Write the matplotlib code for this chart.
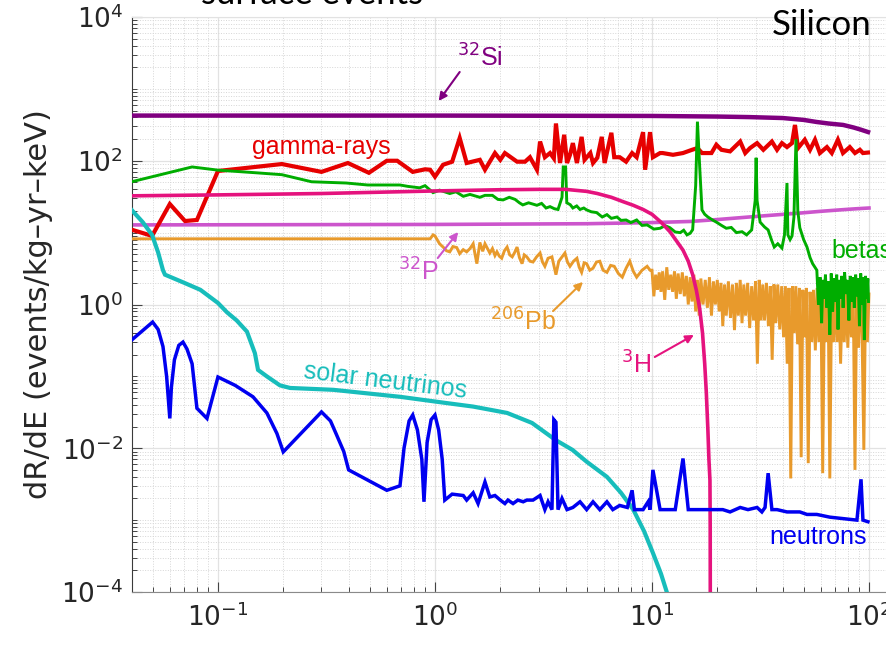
import numpy as np
import matplotlib
matplotlib.use("Agg")
import matplotlib.pyplot as plt
from matplotlib.ticker import LogLocator, FixedLocator, LogFormatterSciNotation, NullFormatter

# ---------------------------------------------------------------------------
# Differential rate spectra in silicon, dR/dE in events/kg/yr/keV vs energy (keV)
# ---------------------------------------------------------------------------

# 32Si beta spectrum
si32_E = [0.04, 1, 10, 20, 28, 40, 50, 57.5, 65, 76, 85, 92, 99]
si32_R = [425, 425, 420, 412, 405, 393, 370, 346, 330, 315, 290, 270, 251]

# 32P beta spectrum
p32_E = [0.04, 1, 5, 10, 15, 20, 28, 35, 48, 60, 70, 80, 90, 100]
p32_R = [12.8, 13.0, 13.3, 13.8, 14.3, 15.2, 16.5, 17.4, 18.7, 19.8, 20.5, 21.1, 21.6, 22.0]

# 3H beta spectrum (endpoint 18.6 keV)
h3_E = [0.04, 0.1, 0.3, 1, 2, 3, 4, 5, 5.6, 6.5, 7.35, 8.2, 9.1, 10, 11, 12.1, 13, 13.9,
        14.7, 15.4, 16.0, 16.6, 17.1, 17.5, 17.8, 18.1, 18.3, 18.5, 18.55, 18.6]
h3_R = [32.5, 33.5, 35, 38, 39.5, 40, 40, 37.5, 35, 31, 27, 24, 21, 18, 14, 10.3, 7.6, 5.7,
        4.0, 2.6, 1.6, 0.87, 0.4, 0.15, 0.06, 0.018, 0.007, 0.0036, 0.0008, 1e-6]

# gamma-ray background
g_E = [0.04, 0.0497, 0.060, 0.0705, 0.080, 0.1, 0.197, 0.30, 0.397, 0.496, 0.60, 0.67, 0.79,
       0.90, 0.95, 1.0, 1.09, 1.20, 1.30, 1.40, 1.61, 1.70, 1.89, 2.0, 2.10, 2.39, 2.60, 2.74,
       2.95, 3.05, 3.21, 3.39, 3.53, 3.61, 3.77, 3.94, 4.06, 4.19, 4.32, 4.51, 4.74, 4.89, 5.2,
       5.35, 5.6, 5.87, 6.05, 6.5, 6.7, 7.1, 7.6, 8.1, 8.5, 9.1, 9.3, 9.8, 10.1, 10.9, 11.2,
       12.5, 13.9, 15.3, 16.2, 17.0, 18.8, 19.8, 20.9, 22.9, 25.5, 26.9, 28.3, 30.5, 32.6,
       35.7, 37.7, 39.7, 41.9, 44.2, 45.6, 47.1, 50.6, 53.5, 56.4, 59.4, 64, 67.4, 71.9, 75.9,
       81.6, 86.2, 90.8, 93.8, 98.9]
g_R = [11, 9.0, 25, 14.5, 15, 72, 90, 70, 93, 68, 100, 100, 70,
       76, 75, 60, 88, 97, 207, 93, 103, 75, 128, 103, 128, 97, 97, 112,
       75, 185, 112, 128, 108, 330, 93, 230, 93, 121, 176, 93, 215, 103, 128,
       93, 110, 215, 93, 245, 112, 112, 97, 128, 112, 250, 75, 250, 112, 128, 128,
       121, 128, 142, 150, 128, 128, 167, 142, 135, 185, 128, 150, 176, 142,
       185, 142, 176, 155, 176, 315, 150, 196, 142, 196, 128, 155, 128, 196, 128,
       155, 128, 142, 128, 130]

# beta (surface) background
b_E = [0.04, 0.076, 0.1, 0.15, 0.197, 0.27, 0.39, 0.49, 0.69, 0.75, 0.85, 0.9, 0.98, 1.05,
       1.17, 1.25, 1.35, 1.45, 1.61, 1.7, 1.84, 1.95, 2.06, 2.2, 2.34, 2.45, 2.54, 2.7, 2.95,
       3.1, 3.25, 3.39, 3.55, 3.69, 3.85, 3.9, 4.0, 4.05, 4.2, 4.32, 4.5, 4.66, 4.85, 5.0,
       5.25, 5.56, 5.75, 5.9, 6.2, 6.5, 6.9, 7.2, 7.6, 8.0, 8.5, 9.0, 9.5, 10.2, 10.9, 11.5,
       12.1, 12.8, 13.5, 14.0, 14.5, 15.0, 15.4, 15.9, 16.2, 16.6, 17.0, 17.5, 18.1, 19.0,
       19.8, 21.0, 22.0, 23.2, 24.5, 26.0, 27.3, 28.8, 29.9, 30.2, 30.5, 31.5, 33.0, 34.3,
       35.5, 36.6, 38.0, 39.7, 40.8, 41.9, 42.3, 43.3, 44.2, 45.1, 46.1, 47.0, 48, 50, 51.8,
       53.5, 55, 57.5, 58.5, 59.5, 60.5, 61.3, 62.2, 63.0, 64.0, 65.0, 66.0, 67.0, 68.0,
       69.0, 70.0, 71.0, 72.0, 73.0, 74.0, 75.0, 76.0, 77.2, 78.4, 79.6, 80.8, 82.0, 83.2,
       84.4, 85.6, 86.8, 88.0, 89.2, 90.4, 91.6, 92.8, 94.0, 95.2, 96.4, 97.6, 98.8, 99.5]
b_R = [51, 82, 74, 68, 64, 51, 49, 46, 46, 44, 42, 45, 36, 39,
       35, 37, 32, 34, 31, 33, 33, 29, 28.5, 31, 29, 26, 24.3, 26, 24,
       25.5, 22, 23, 21.5, 21, 31, 82, 82, 26, 24.5, 22, 23.5, 21, 22, 20.7,
       19.5, 19, 17.5, 16.5, 17.8, 15.8, 16.5, 14.8, 15, 13.8, 15, 12.6, 12.8, 11.2, 11.5, 12.5,
       11.7, 10.2, 10, 10.8, 9.3, 9.8, 11, 45, 350, 80, 20.7, 18, 16.5, 15,
       14, 12.5, 11.5, 11.8, 10, 10.3, 9.3, 10.9, 28, 110, 28, 14, 12, 10.9,
       8, 6.3, 7, 6.1, 9.3, 49, 9.3, 8, 9, 16.5, 200, 20, 11.7, 8, 6.3,
       4.5, 3.7, 3.0, 1.0, 2.4, 0.55, 2.2, 1.2, 2.6, 0.9, 2.1, 0.38, 2.7, 0.8,
       2.3, 1.1, 2.6, 0.45, 2.2, 1.2, 2.5, 0.9, 2.8, 1.4, 2.2, 0.6, 2.5, 1.1,
       2.4, 0.9, 2.6, 1.3, 2.3, 0.5, 2.7, 1.0, 2.4, 0.32, 2.5, 1.2, 2.3, 1.1]

# 206Pb recoils, 0.04-10 keV
pb_E = [0.04, 0.95, 0.98, 1.0, 1.05, 1.09, 1.13, 1.17, 1.21, 1.26, 1.30, 1.35, 1.40, 1.45,
        1.50, 1.53, 1.56, 1.61, 1.66, 1.70, 1.75, 1.79, 1.84, 1.89, 1.93, 1.98, 2.03, 2.09,
        2.15, 2.21, 2.27, 2.33, 2.39, 2.45, 2.52, 2.58, 2.65, 2.74, 2.83, 2.94, 3.05, 3.13,
        3.21, 3.32, 3.46, 3.53, 3.61, 3.72, 3.85, 3.97, 4.08, 4.19, 4.35, 4.51, 4.62, 4.74,
        4.87, 5.0, 5.17, 5.35, 5.55, 5.75, 5.95, 6.2, 6.45, 6.7, 7.0, 7.3, 7.6, 7.9, 8.2, 8.5,
        9.0, 9.5, 9.8]
pb_R = [8.2, 8.2, 9.3, 9.0, 7.0, 6.3, 5.6, 5.4, 6.4, 6.2, 5.1, 5.8, 5.4, 6.0,
        7.0, 5.0, 3.7, 7.3, 5.5, 7.0, 5.9, 5.2, 6.0, 4.8, 5.4, 4.7, 4.4, 5.6,
        6.3, 4.9, 4.6, 5.3, 6.3, 4.5, 3.7, 4.9, 4.6, 4.0, 3.9, 4.6, 5.2, 3.9,
        3.4, 4.4, 4.6, 3.5, 2.6, 4.0, 4.6, 5.2, 3.9, 3.4, 4.0, 4.4, 3.3, 2.8,
        3.8, 3.7, 3.0, 3.2, 3.9, 4.0, 3.0, 2.8, 3.5, 3.4, 2.7, 2.4, 3.2, 4.0, 2.9, 2.4,
        3.0, 3.4, 3.0]

# 206Pb recoils, 10-100 keV (rows of ten)
pb_hi_E = [10.0, 10.2, 10.4, 10.6, 10.8, 11.0, 11.2, 11.45, 11.7, 11.95,
           12.2, 12.45, 12.7, 12.95, 13.2, 13.5, 13.8, 14.1, 14.4, 14.7,
           15.0, 15.3, 15.6, 15.9, 16.2, 16.5, 16.8, 17.2, 17.6, 18.0,
           18.4, 18.8, 19.2, 19.6, 20.0, 20.4, 20.8, 21.2, 21.6, 22.0,
           22.5, 23.0, 23.5, 24.0, 24.5, 25.0, 25.5, 26.0, 26.5, 27.0,
           27.6, 28.2, 28.8, 29.4, 30.0, 30.6, 31.2, 31.8, 32.4, 33.0,
           33.7, 34.4, 35.1, 35.8, 36.5, 37.2, 38.0, 38.8, 39.6, 40.4,
           41.2, 42.0, 42.8, 43.6, 44.4, 45.2, 46.0, 46.9, 47.8, 48.7,
           49.6, 50.5, 51.5, 52.5, 53.5, 54.5, 55.5, 56.6, 57.7, 58.8,
           60.0, 61.2, 62.4, 63.6, 64.8, 66.0, 67.3, 68.6, 69.9, 71.2,
           72.6, 74.0, 75.4, 76.9, 78.4, 79.9, 81.4, 83.0, 84.6, 86.2,
           87.8, 89.5, 91.2, 92.9, 94.7, 96.5, 98.3, 100]
pb_hi_R = [3.0, 1.3, 2.6, 1.6, 2.8, 1.5, 2.9, 1.16, 3.3, 1.6,
           2.6, 1.5, 2.9, 1.2, 2.7, 1.4, 2.8, 1.3, 2.5, 1.0,
           2.4, 1.1, 2.6, 0.8, 2.2, 0.7, 2.3, 1.0, 2.2, 0.9,
           2.4, 0.7, 2.1, 1.0, 2.2, 0.8, 2.0, 0.5, 1.9, 0.7,
           2.1, 0.65, 1.9, 0.44, 2.0, 0.7, 2.2, 0.55, 1.9, 0.7,
           2.0, 0.47, 1.8, 0.6, 2.1, 0.15, 2.2, 0.6, 1.9, 0.6,
           2.0, 0.5, 1.8, 0.17, 1.9, 0.55, 1.9, 0.45, 1.8, 0.35,
           1.8, 0.15, 1.7, 0.0038, 1.8, 0.4, 1.8, 0.28, 1.7, 0.0075,
           1.6, 0.35, 1.7, 0.0062, 1.5, 0.3, 1.6, 0.23, 1.7, 0.3,
           1.5, 0.0045, 1.6, 0.3, 1.7, 0.0038, 1.5, 0.3, 1.6, 0.3,
           1.4, 0.15, 1.5, 0.3, 1.6, 0.25, 1.4, 0.35, 1.5, 0.005,
           1.6, 0.25, 1.5, 0.4, 0.0095, 1.5, 0.3, 1.4]

# solar neutrino coherent scattering
nu_E = [0.04, 0.045, 0.0497, 0.053, 0.0558, 0.057, 0.07, 0.083, 0.1, 0.11, 0.122, 0.136,
        0.148, 0.153, 0.168, 0.193, 0.215, 0.34, 0.69, 1.1, 1.5, 2.15, 2.8, 3.6, 4.3, 5.0,
        6.2, 7.2, 8.2, 9.2, 10.1, 11.0, 11.7, 12.5]
nu_R = [20.7, 14, 9.3, 5.3, 3.0, 2.6, 2.0, 1.6, 1.05, 0.78, 0.6, 0.42,
        0.21, 0.123, 0.10, 0.075, 0.069, 0.065, 0.052, 0.043, 0.038, 0.031, 0.0225, 0.013,
        0.0095, 0.0065, 0.004, 0.0024, 0.0014, 0.0007, 3.5e-4, 1.8e-4, 1e-4, 4e-5]

# neutron background
n_E = [0.04, 0.05, 0.053, 0.0558, 0.058, 0.060, 0.061, 0.063, 0.066, 0.069, 0.072, 0.076,
       0.080, 0.089, 0.1, 0.12, 0.145, 0.168, 0.187, 0.2, 0.30, 0.33, 0.35, 0.38, 0.40, 0.60,
       0.69, 0.72, 0.76, 0.79, 0.83, 0.87, 0.89, 0.92, 0.96, 1.0, 1.04, 1.08, 1.11,
       1.20, 1.35, 1.40, 1.50, 1.58, 1.70, 1.79, 1.89, 2.0, 2.10, 2.17, 2.29, 2.41, 2.55,
       2.65, 2.83, 3.05, 3.21, 3.32, 3.46, 3.53, 3.61, 3.69, 3.85, 4.06, 4.32, 4.66, 5.0,
       5.35, 5.75, 6.2, 6.6, 7.1, 7.7, 8.1, 8.3, 9.1, 9.6, 9.8, 10.1, 10.9, 12.8, 13.9,
       14.7, 16.6, 17.9, 21.2, 22.9, 25.5, 27.7, 30.5, 32.1, 33.2, 34.3, 35.7, 37.7, 41.9,
       44.2, 48, 51.8, 57.5, 66, 75.9, 88, 91.9, 93.8, 98.9]
n_R = [0.32, 0.57, 0.45, 0.26, 0.1, 0.026, 0.07, 0.17, 0.27, 0.30, 0.24, 0.15,
       0.036, 0.026, 0.098, 0.075, 0.052, 0.031, 0.016, 0.0089, 0.032, 0.024, 0.016, 0.009, 0.005, 0.0026,
       0.003, 0.01, 0.024, 0.029, 0.018, 0.007, 0.0018, 0.012, 0.025, 0.029, 0.018, 0.007, 0.0019,
       0.0023, 0.0022, 0.0019, 0.0024, 0.0017, 0.0034, 0.0021, 0.0022, 0.0019, 0.0017, 0.0019, 0.0017, 0.0019, 0.0018,
       0.0019, 0.0019, 0.0022, 0.0014, 0.0018, 0.0014, 0.025, 0.023, 0.0014, 0.002, 0.0014, 0.0015, 0.0018, 0.0014,
       0.0018, 0.0014, 0.0018, 0.0014, 0.0016, 0.0015, 0.0026, 0.0014, 0.0014, 0.0018, 0.0014, 0.005, 0.0014, 0.0014, 0.0072,
       0.0014, 0.0014, 0.0014, 0.0014, 0.0013, 0.0015, 0.0014, 0.0015, 0.0013, 0.0015, 0.0045, 0.0014, 0.0014, 0.0013,
       0.0013, 0.0013, 0.0012, 0.0012, 0.0011, 0.00105, 0.001, 0.0037, 0.001, 0.00095]

# ---------------------------------------------------------------------------
fig = plt.figure(figsize=(8.86, 6.49), dpi=100)
ax = fig.add_axes([131.6 / 886, 57 / 649, (886 - 131.6) / 886, 575 / 649])
ax.set_xscale("log")
ax.set_yscale("log")
ax.set_xlim(0.04, 119.8)
ax.set_ylim(1e-4, 1e4)

series = [
    (p32_E, p32_R, "#cc55cc", 2.6, 2),
    (pb_E + pb_hi_E, pb_R + pb_hi_R, "#e89a2c", 2.1, 3),
    (g_E, g_R, "#e60000", 3.0, 4),
    (b_E, b_R, "#00ad00", 2.1, 5),
    (si32_E, si32_R, "#800080", 3.2, 6),
    (h3_E, h3_R, "#e5137e", 2.6, 7),
    (nu_E, nu_R, "#17bdbb", 3.0, 8),
    (n_E, n_R, "#0000f0", 2.5, 9),
]
for e, r, c, lw, z in series:
    ax.plot(e, r, color=c, lw=lw, zorder=z, solid_joinstyle="miter")

# axes styling
ax.set_axisbelow(True)
ax.grid(True, which="major", color="#e2e2e2", lw=0.9, ls="-")
ax.grid(True, which="minor", color="#d6d6d6", lw=0.7, ls=(0, (1, 1.6)))
ax.xaxis.set_major_locator(LogLocator(base=10, numticks=10))
ax.xaxis.set_minor_locator(LogLocator(base=10, subs=np.arange(2, 10), numticks=50))
ax.xaxis.set_minor_formatter(NullFormatter())
ax.yaxis.set_major_locator(FixedLocator([1e-4, 1e-2, 1e0, 1e2, 1e4]))
ax.yaxis.set_major_formatter(LogFormatterSciNotation())
ax.yaxis.set_minor_locator(LogLocator(base=10, subs=np.arange(1, 10), numticks=50))
ax.yaxis.set_minor_formatter(NullFormatter())
ax.tick_params(which="both", direction="in", colors="#444444", labelcolor="#262626",
               top=False, right=False)
ax.tick_params(which="major", length=7, width=0.8, labelsize=19)
ax.tick_params(which="minor", length=3.5, width=0.7)
ax.tick_params(axis="x", pad=8)
ax.tick_params(axis="y", pad=6)
ax.spines["right"].set_visible(False)
ax.spines["top"].set_color("#e2e2e2")
ax.spines["left"].set_color("#3a3a3a")
ax.spines["bottom"].set_color("#8a8a8a")

ax.set_ylabel("dR/dE (events/kg\u2013yr\u2013keV)", fontsize=22, color="#262626")
ax.yaxis.label.set_verticalalignment("center")
ax.yaxis.set_label_coords((39 - 131.6) / 754.4, 0.5)

# curve labels
lab = dict(family="Liberation Sans", fontsize=18, ha="center", va="center")
ax.text(0.301, 155, "gamma-rays", color="#e60000", **lab)
ax.text(67.5, 5.55, "betas", color="#00ad00", **{**lab, "ha": "left"})
ax.text(0.589, 0.0863, "solar neutrinos", color="#17bdbb", rotation=-7, **lab)
ax.text(58.2, 5.8e-4, "neutrons", color="#0000f0", **lab)

iso = [
    ("$^{32}$Si", "#800080", (1.61, 2700), (1.30, 1718), (1.04, 678)),
    ("$^{32}$P", "#cc55cc", (0.836, 2.83), (1.03, 4.43), (1.28, 10.2)),
    ("$^{206}$Pb", "#e89a2c", (2.55, 0.57), (3.5, 0.81), (4.81, 2.06)),
    ("$^{3}$H", "#e5137e", (8.44, 0.144), (10.3, 0.186), (15.6, 0.377)),
]
for txt, c, pos, tail, head in iso:
    ax.text(pos[0], pos[1], txt, color=c, zorder=12, **lab)
    ax.annotate("", xy=head, xytext=tail, zorder=12,
                arrowprops=dict(arrowstyle="-|>", color=c, lw=1.5,
                                mutation_scale=12, shrinkA=0, shrinkB=0))

fig.text(872 / 886, 1 - 35 / 649, "Silicon", family="Lato", fontsize=25,
         ha="right", va="baseline", color="black")
fig.text(312 / 886, 1 - 4 / 649, "surface events", family="Lato", fontsize=25,
         ha="center", va="baseline", color="black")

fig.savefig("out.png", dpi=100)
